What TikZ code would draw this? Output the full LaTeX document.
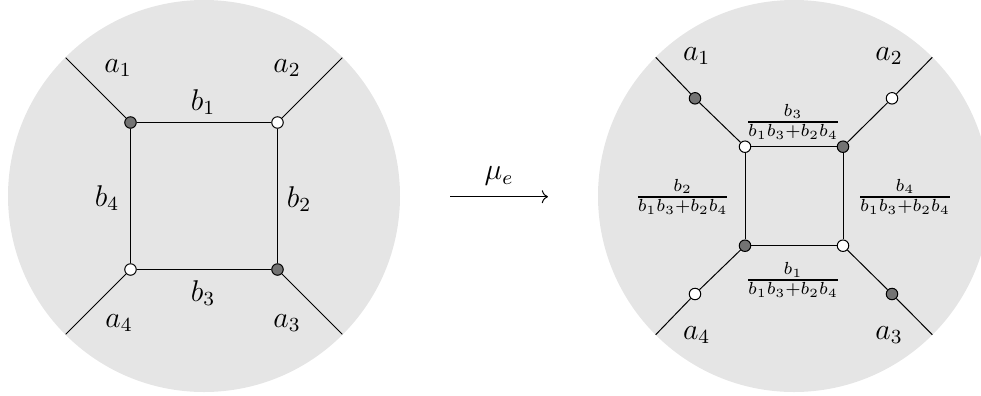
\documentclass[tikz,border=0pt]{standalone}
\usepackage{amsmath}
\usepackage{tikz}
\usetikzlibrary{positioning,arrows.meta}

\newcommand{\mfr}[2]{\genfrac{}{}{0.75pt}{}{#1}{#2}}

\begin{document}
\begin{tikzpicture}[
    x=0.4pt,y=-0.4pt,font=\large,
    disk/.style={fill=black!10,draw=none},
    edge/.style={draw=black,line width=0.4pt},
    bv/.style={circle,draw=black,line width=0.4pt,fill=black!55,
      minimum size=4.6pt,inner sep=0pt},
    wv/.style={circle,draw=black,line width=0.4pt,fill=white,
      minimum size=4.6pt,inner sep=0pt},
    lab/.style={inner sep=1pt},
    frc/.style={inner sep=1pt,font=\normalsize}
]
\clip (0,0) rectangle (981,395);
\fill[disk] (204,196) circle (196);
\fill[disk] (794,196) circle (196);

% left graph
\node[bv] (l1) at (130.5,122.5) {};
\node[wv] (l2) at (277.5,122.5) {};
\node[bv] (l3) at (277.5,269.5) {};
\node[wv] (l4) at (130.5,269.5) {};
\coordinate (le1) at (65.7,57.7);
\coordinate (le2) at (342.3,57.7);
\coordinate (le3) at (342.3,334.3);
\coordinate (le4) at (65.7,334.3);

\draw[edge] (l1) -- (l2) -- (l3) -- (l4) -- (l1);
\draw[edge] (le1) -- (l1);
\draw[edge] (le2) -- (l2);
\draw[edge] (le3) -- (l3);
\draw[edge] (le4) -- (l4);

\node[lab] (la1) at (118,68) {$a_1$};
\node[lab] (la2) at (287,68) {$a_2$};
\node[lab] (la3) at (287,323) {$a_3$};
\node[lab] (la4) at (119,323) {$a_4$};
\node[lab] (lb1) at (203,102) {$b_1$};
\node[lab] (lb2) at (299,199) {$b_2$};
\node[lab] (lb3) at (203,293) {$b_3$};
\node[lab] (lb4) at (107,198) {$b_4$};

% mutation arrow
\coordinate (ms) at (450,196.7);
\coordinate (me) at (548,196.7);
\draw[edge,->] (ms) -- node[above=1pt] (mu) {$\mu_e$} (me);

% right graph
\node[wv] (r1) at (745,146.7) {};
\node[bv] (r2) at (843,146.7) {};
\node[wv] (r3) at (843,245.7) {};
\node[bv] (r4) at (745,245.7) {};
\node[bv] (o1) at (695,98.3) {};
\node[wv] (o2) at (892,98.3) {};
\node[bv] (o3) at (892,294) {};
\node[wv] (o4) at (695,294) {};
\coordinate (re1) at (655.7,57.3);
\coordinate (re2) at (932.3,57.3);
\coordinate (re3) at (932.3,334.7);
\coordinate (re4) at (655.7,334.7);

\draw[edge] (r1) -- (r2) -- (r3) -- (r4) -- (r1);
\draw[edge] (re1) -- (o1) -- (r1);
\draw[edge] (re2) -- (o2) -- (r2);
\draw[edge] (re3) -- (o3) -- (r3);
\draw[edge] (re4) -- (o4) -- (r4);

\node[lab] (ra1) at (696.7,56) {$a_1$};
\node[lab] (ra2) at (889,56) {$a_2$};
\node[lab] (ra3) at (889,335) {$a_3$};
\node[lab] (ra4) at (696.7,335) {$a_4$};
\node[frc] (rb3) at (793,121.7) {$\mfr{b_3}{b_1b_3+b_2b_4}$};
\node[frc] (rb2) at (682.7,196.7) {$\mfr{b_2}{b_1b_3+b_2b_4}$};
\node[frc] (rb4) at (905,196.7) {$\mfr{b_4}{b_1b_3+b_2b_4}$};
\node[frc] (rb1) at (793,280) {$\mfr{b_1}{b_1b_3+b_2b_4}$};
\end{tikzpicture}
\end{document}
